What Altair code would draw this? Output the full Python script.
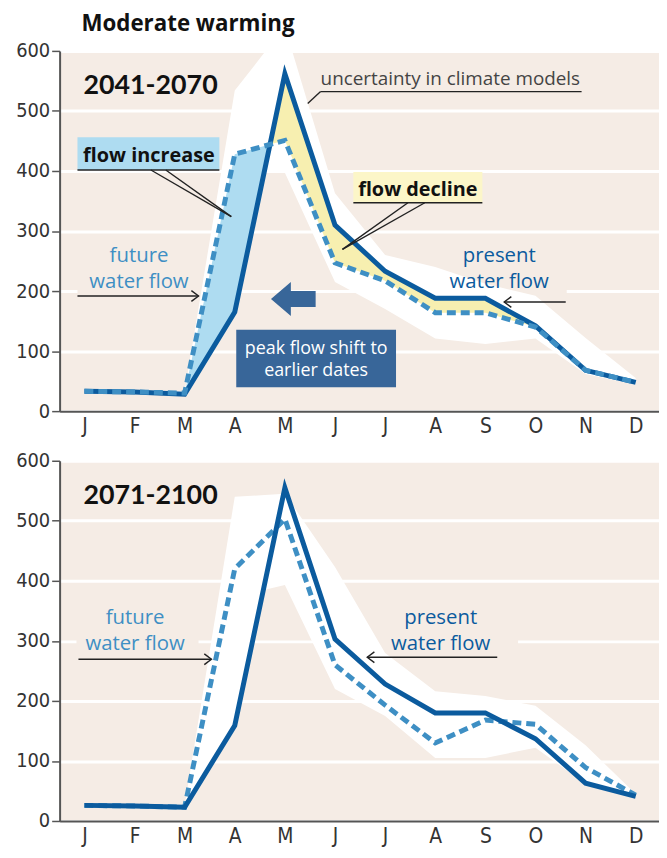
import altair as alt
import pandas as pd

# ---------------- data ----------------
months = ["J", "F", "M", "A", "M", "J", "J", "A", "S", "O", "N", "D"]
month_idx = list(range(12))
y_ticks = [0, 100, 200, 300, 400, 500, 600]

# 2041-2070
present_2041 = [33, 32, 28, 165, 562, 310, 233, 188, 188, 142, 68, 48]
future_2041 = [33, 32, 30, 428, 451, 247, 217, 164, 164, 140, 68, 48]
band_x_2041 = [0, 1, 2, 3, 3.6, 4, 5, 6, 7, 8, 9, 10, 11]
band_hi_2041 = [36, 35, 33, 534, 598, 640, 363, 260, 240, 212, 192, 122, 55]
band_lo_2041 = [30, 29, 26, 395, 397, 397, 215, 170, 121, 112, 121, 62, 44]

# 2071-2100
present_2071 = [26, 25, 23, 159, 555, 303, 228, 180, 180, 137, 63, 41]
future_2071 = [26, 25, 23, 420, 503, 260, 193, 130, 168, 161, 89, 43]
band_x_2071 = [0, 1, 2, 3, 3.6, 4, 5, 6, 7, 8, 9, 10, 11]
band_hi_2071 = [29, 28, 26, 540, 543, 545, 423, 280, 216, 208, 192, 126, 45]
band_lo_2071 = [24, 23, 20, 160, 385, 393, 220, 175, 105, 105, 122, 62, 40]

# ---------------- style ----------------
BEIGE = "#f5ece5"
DARK = "#0b5b9e"
LIGHT = "#3e8fc4"
BLUEFILL = "#aedcf1"
YELLOWFILL = "#f7efb0"
BOXBLUE = "#386699"
NARROW = "DejaVu Sans Condensed, Roboto, Liberation Sans, sans-serif"
SANS = "Open Sans"
PLOT_W, PLOT_H = 604, 363
X_DOMAIN = [-0.495, 11.465]

label_expr = "[" + ",".join("'%s'" % m for m in months) + "][datum.value]"


def x_enc(field="x"):
    return alt.X(
        f"{field}:Q",
        scale=alt.Scale(domain=X_DOMAIN, nice=False, zero=False),
        axis=alt.Axis(values=month_idx, labelExpr=label_expr, ticks=False, grid=False,
                      domainColor="#555", domainWidth=2, labelFont=NARROW, labelFontSize=21,
                      labelFontWeight=300, labelColor="#333", labelPadding=5, title=None,
                      labelFlush=False, labelOverlap=False),
    )


def y_enc(field):
    return alt.Y(
        f"{field}:Q",
        scale=alt.Scale(domain=[0, 600], nice=False),
        axis=alt.Axis(values=y_ticks, grid=True, gridColor="white", gridWidth=3, gridOpacity=1,
                      tickSize=8, tickColor="#555", tickWidth=1.5, domainColor="#555",
                      domainWidth=2, labelFont=NARROW, labelFontSize=20, labelFontWeight=300,
                      labelColor="#333", labelPadding=2, title=None, labelFlush=False),
    )


dummy = pd.DataFrame({"d": [0]})


def rule(x1, y1, x2, y2, color="#222", w=1.4):
    return alt.Chart(dummy).mark_rule(color=color, strokeWidth=w).encode(
        x=alt.value(x1), y=alt.value(y1), x2=alt.value(x2), y2=alt.value(y2))


def rect(x1, y1, x2, y2, color):
    return alt.Chart(dummy).mark_rect(color=color).encode(
        x=alt.value(x1), x2=alt.value(x2), y=alt.value(y1), y2=alt.value(y2))


def text(x, y, t, size, color, weight="normal", align="left", baseline="alphabetic", font=SANS):
    return alt.Chart(dummy).mark_text(align=align, baseline=baseline, fontSize=size,
                                      color=color, fontWeight=weight, font=font).encode(
        x=alt.value(x), y=alt.value(y), text=alt.value(t))


CHEV_R = "M-0.6,-0.9L0.6,0L-0.6,0.9"
CHEV_L = "M0.6,-0.9L-0.6,0L0.6,0.9"
BIG_ARROW = "M-1,0L-0.11,-0.76L-0.11,-0.36L1,-0.36L1,0.36L-0.11,0.36L-0.11,0.76Z"


def chevron(x, y, path):
    return alt.Chart(dummy).mark_point(shape=path, size=144, filled=False, color="#222",
                                       strokeWidth=1.4, opacity=1).encode(
        x=alt.value(x), y=alt.value(y))


def arrow_right(x1, x2, y):
    return [rule(x1, y, x2, y), chevron(x2 - 3.6, y, CHEV_R)]


def arrow_left(x1, x2, y):
    # x1 = tail (right), x2 = tip (left)
    return [rule(x1, y, x2, y), chevron(x2 + 3.6, y, CHEV_L)]


def fill_frames(present, future):
    pts = []
    n = len(present)
    for i in range(n):
        pts.append((i, future[i], present[i], future[i] - present[i]))
        if i < n - 1:
            d0 = future[i] - present[i]
            d1 = future[i + 1] - present[i + 1]
            if d0 * d1 < 0:
                t = d0 / (d0 - d1)
                yc = present[i] + t * (present[i + 1] - present[i])
                pts.append((i + t, yc, yc, 0.0))
    pos, neg = [], []
    for k, (xx, f, p, d) in enumerate(pts):
        prev_d = pts[k - 1][3] if k > 0 else 0
        next_d = pts[k + 1][3] if k < len(pts) - 1 else 0
        if d > 0 or (d == 0 and (prev_d > 0 or next_d > 0)):
            pos.append((xx, f, p))
        if d < 0 or (d == 0 and (prev_d < 0 or next_d < 0)):
            neg.append((xx, f, p))
    cols = ["x", "future", "present"]
    return pd.DataFrame(pos, columns=cols), pd.DataFrame(neg, columns=cols)


def series_layers(present, future, band_x, band_hi, band_lo, dashed_on_top, fills):
    lines = pd.DataFrame({"x": month_idx, "present": present, "future": future})
    band = pd.DataFrame({"x": band_x, "hi": band_hi, "lo": band_lo})
    out = [alt.Chart(band).mark_area(color="white", opacity=1, clip=True).encode(
        x=x_enc(), y=y_enc("hi"), y2=alt.Y2("lo:Q"))]
    if fills:
        pos, neg = fill_frames(present, future)
        out.append(alt.Chart(pos).mark_area(color=BLUEFILL, opacity=1).encode(
            x=x_enc(), y=y_enc("future"), y2=alt.Y2("present:Q")))
        out.append(alt.Chart(neg).mark_area(color=YELLOWFILL, opacity=1).encode(
            x=x_enc(), y=y_enc("future"), y2=alt.Y2("present:Q")))
    solid = alt.Chart(lines).mark_line(color=DARK, strokeWidth=5, strokeJoin="miter").encode(
        x=x_enc(), y=y_enc("present"))
    dashed = alt.Chart(lines).mark_line(color=LIGHT, strokeWidth=5, strokeDash=[9, 5],
                                        strokeJoin="miter").encode(x=x_enc(), y=y_enc("future"))
    out += [solid, dashed] if dashed_on_top else [dashed, solid]
    return out


# ---------------- top panel ----------------
top_layers = [
    rect(18, 236, 150, 249, BEIGE),
    rect(380, 236, 511, 249, BEIGE),
]
top_layers += series_layers(present_2041, future_2041, band_x_2041, band_hi_2041,
                            band_lo_2041, True, True)
top_layers += [
    text(22, -20, "Moderate warming", 22.5, "#111", "bold"),
    text(24, 43, "2041-2070", 27, "#111", "bold", font="Lato"),
    text(263, 34, "uncertainty in climate models", 19, "#444"),
    rule(263, 41, 526, 41), rule(263, 41, 250, 53),
    rect(18, 87, 161, 120, BLUEFILL),
    text(90, 112, "flow increase", 20, "#111", "bold", align="center"),
    rule(18, 120, 161, 120), rule(92, 120, 173, 167), rule(107, 120, 173, 167),
    rect(296, 122, 426, 153, "#fcf6c8"),
    text(361, 146, "flow decline", 20, "#111", "bold", align="center"),
    rule(296, 153, 426, 153), rule(351, 153, 285, 200), rule(368, 153, 285, 200),
    text(80, 207, "future", 20.5, LIGHT, align="center", baseline="middle"),
    text(80, 233, "water flow", 20.5, LIGHT, align="center", baseline="middle"),
    text(443, 207, "present", 20.5, DARK, align="center", baseline="middle"),
    text(443, 233, "water flow", 20.5, DARK, align="center", baseline="middle"),
]
top_layers += arrow_right(18, 140, 247)
top_layers += arrow_left(510, 448, 253)
top_layers += [
    alt.Chart(dummy).mark_point(shape=BIG_ARROW, size=2025, filled=True, color=BOXBLUE,
                                opacity=1, strokeWidth=0).encode(
        x=alt.value(235.5), y=alt.value(250)),
    rect(178, 281, 339, 339, BOXBLUE),
    text(258.5, 300, "peak flow shift to", 18, "white", align="center", baseline="middle"),
    text(258.5, 323, "earlier dates", 18, "white", align="center", baseline="middle"),
]
top = alt.layer(*top_layers).properties(width=PLOT_W, height=PLOT_H)

# ---------------- bottom panel ----------------
bot_layers = [
    rect(17, 175, 140, 188, BEIGE),
    rect(318, 175, 462, 188, BEIGE),
]
bot_layers += series_layers(present_2071, future_2071, band_x_2071, band_hi_2071,
                            band_lo_2071, False, False)
bot_layers += [
    text(24, 44, "2071-2100", 27, "#111", "bold", font="Lato"),
    text(76, 159, "future", 20.5, LIGHT, align="center", baseline="middle"),
    text(76, 185, "water flow", 20.5, LIGHT, align="center", baseline="middle"),
    text(384, 159, "present", 20.5, DARK, align="center", baseline="middle"),
    text(384, 185, "water flow", 20.5, DARK, align="center", baseline="middle"),
]
bot_layers += arrow_right(19, 153, 200)
bot_layers += arrow_left(441, 310, 198)
bottom = alt.layer(*bot_layers).properties(width=PLOT_W, height=PLOT_H)

chart = (
    alt.vconcat(top, bottom, spacing=50, bounds="flush")
    .properties(padding={"left": 7, "top": 2, "right": 0, "bottom": 0})
    .configure_view(fill=BEIGE, strokeWidth=0)
)

chart.save("out.html", embed_options={"renderer": "svg", "actions": False})
